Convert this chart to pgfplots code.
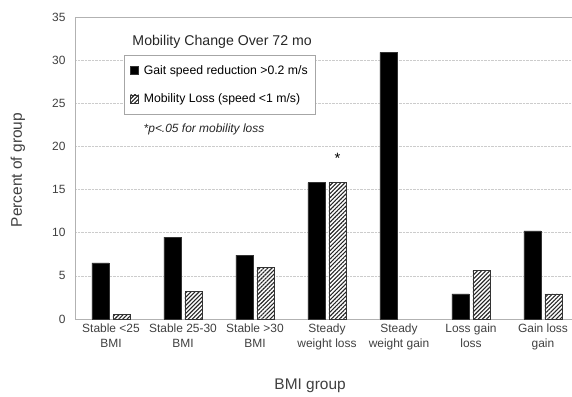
\documentclass[border=0pt]{standalone}
\usepackage{fontspec}
\setmainfont{Liberation Sans}
\usepackage{pgfplots}
\pgfplotsset{compat=1.18}
\usetikzlibrary{patterns.meta}
\definecolor{txt}{HTML}{404040}
\begin{document}
\begin{tikzpicture}
\begin{axis}[
  name=ax, at={(0,0)}, anchor=south west,
  scale only axis, width=497bp, height=302bp,
  xmin=-0.5, xmax=6.403, ymin=0, ymax=35,
  ybar, bar width=17bp, ybar=4bp,
  axis x line*=bottom, axis y line*=left,
  axis line style={gray!60, line width=0.8pt},
  ytick={0,5,...,30}, extra y ticks={35},
  extra y tick style={grid style={solid, gray!60, line width=0.8pt}},
  ymajorgrids, grid style={densely dotted, gray!40, line width=0.6pt},
  major tick length=0pt,
  xtick={0,...,6},
  xticklabels={{Stable <25\\BMI},{Stable 25-30\\BMI},{Stable >30\\BMI},{Steady\\weight loss},{Steady\\weight gain},{Loss gain\\loss},{Gain loss\\gain}},
  xticklabel style={align=center, font=\fontsize{12}{15}\selectfont, text=txt, yshift=-1bp},
  yticklabel style={font=\fontsize{12}{14}\selectfont, text=txt, xshift=-6bp},
  /pgf/number format/assume math mode=true,
  xlabel={BMI group}, xlabel style={font=\fontsize{15.5}{18}\selectfont, text=txt, at={(rel axis cs:0.473,-0.2219)}, anchor=center},
  ylabel={Percent of group}, ylabel style={font=\fontsize{15.5}{18}\selectfont, text=txt, at={(rel axis cs:-0.1147,0.493)}, anchor=center, rotate=0},
  legend style={at={(rel axis cs:0.0986,0.874)}, anchor=north west, draw=gray!70, line width=0.6pt,
    font=\fontsize{12.3}{14}\selectfont, text=black, row sep=14bp, inner xsep=6bp, inner ysep=8bp,
    legend cell align=left},
  legend image code/.code={\draw[#1] (0bp,-4bp) rectangle (8bp,4bp); \path (0bp,0bp) (11bp,0bp);},
  clip=false,
]
\addplot[fill=black, draw=black!80] coordinates {(0,6.5) (1,9.5) (2,7.4) (3,15.8) (4,30.9) (5,2.9) (6,10.2)};
\addlegendentry{Gait speed reduction >0.2 m/s}
\addplot[fill=white, draw=black!80, postaction={pattern={Lines[angle=45,distance=2.9pt,line width=1.1pt]}, pattern color=black!85}] coordinates {(0,0.5) (1,3.2) (2,6.0) (3,15.8) (5,5.6) (6,2.9)};
\addlegendentry{Mobility Loss (speed <1 m/s)}
\node[font=\fontsize{14.2}{16}\selectfont, text=black!85] at (rel axis cs:0.296,0.917) {Mobility Change Over 72 mo};
\node[font=\fontsize{12}{14}\selectfont\itshape, text=black!85] at (rel axis cs:0.2596,0.629) {*p<.05 for mobility loss};
\node[font=\fontsize{15}{16}\selectfont] at (axis cs:3.146,18.6) {*};
\end{axis}
\pgfresetboundingbox
\useasboundingbox (ax.south west) ++(-75bp,-78bp) rectangle ++(572bp,397bp);
\end{tikzpicture}
\end{document}
